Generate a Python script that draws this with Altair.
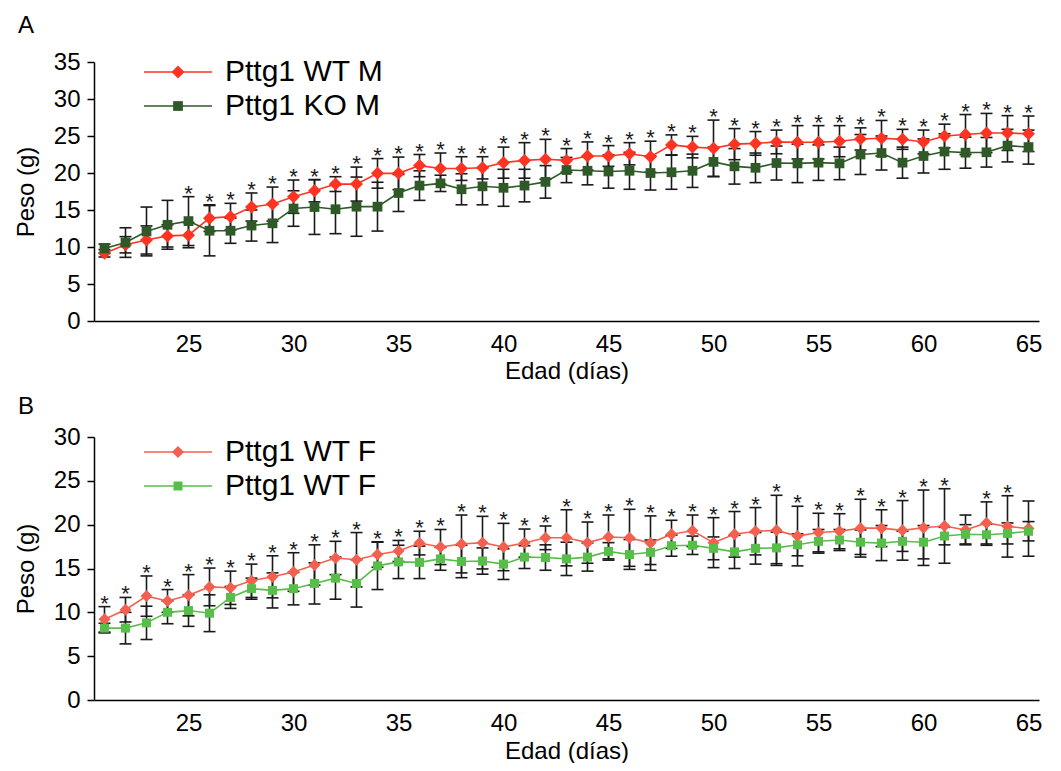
import altair as alt
import pandas as pd

# ---------------- data ----------------
dias = list(range(21, 66))
etiquetas_x = [25, 30, 35, 40, 45, 50, 55, 60, 65]
etiquetas_y_a = [0, 5, 10, 15, 20, 25, 30, 35]
etiquetas_y_b = [0, 5, 10, 15, 20, 25, 30]

# Panel A (machos)
wt_m = [9.15, 10.3, 10.95, 11.5, 11.6, 13.9, 14.1, 15.4, 15.8, 16.8, 17.6, 18.5, 18.5, 19.95, 19.95,
        21.0, 20.6, 20.6, 20.7, 21.4, 21.7, 21.85, 21.7, 22.3, 22.3, 22.6, 22.2, 23.8, 23.5, 23.35,
        23.9, 24.0, 24.2, 24.15, 24.15, 24.3, 24.6, 24.7, 24.55, 24.2, 25.0, 25.2, 25.4, 25.4, 25.3]
wt_m_err = [0.5, 1.1, 1.9, 1.5, 1.7, 1.8, 1.8, 1.9, 2.3, 2.25, 1.5, 1.0, 2.3, 2.0, 2.2,
            1.5, 2.1, 1.6, 1.5, 2.1, 2.4, 2.7, 1.6, 1.9, 1.4, 1.5, 2.1, 1.35, 1.45, 3.8,
            2.1, 1.6, 1.6, 2.25, 2.25, 2.1, 1.5, 2.4, 1.35, 1.6, 1.6, 2.7, 2.65, 2.35, 2.4]
ko_m = [9.8, 10.6, 12.1, 13.0, 13.5, 12.2, 12.2, 12.9, 13.2, 15.2, 15.4, 15.1, 15.45, 15.45, 17.3,
        18.3, 18.6, 17.8, 18.2, 18.0, 18.3, 18.8, 20.4, 20.3, 20.2, 20.3, 20.0, 20.1, 20.3, 21.5,
        20.9, 20.7, 21.35, 21.3, 21.4, 21.3, 22.5, 22.7, 21.4, 22.3, 22.9, 22.75, 22.8, 23.7, 23.5]
ko_m_err = [0.6, 2.0, 3.3, 3.3, 3.3, 3.4, 1.7, 2.1, 2.6, 2.4, 3.7, 3.3, 4.0, 3.3, 2.5,
            2.0, 1.1, 2.1, 2.5, 2.5, 2.2, 2.2, 1.7, 1.9, 2.25, 2.5, 2.3, 2.3, 2.25, 2.0,
            2.4, 2.0, 2.3, 2.6, 2.4, 2.2, 2.7, 2.3, 2.1, 2.3, 2.4, 2.1, 2.0, 2.2, 2.3]
estrellas_a = [25, 26, 27, 28, 29, 30, 31, 32, 33, 34, 35, 36, 37, 38, 39, 40, 41, 42, 43, 44, 45,
               46, 47, 48, 49, 50, 51, 52, 53, 54, 55, 56, 57, 58, 59, 60, 61, 62, 63, 64, 65]

# Panel B (hembras)
wt_f = [9.2, 10.3, 11.85, 11.3, 11.95, 12.9, 12.8, 13.6, 14.05, 14.6, 15.4, 16.2, 16.0, 16.6, 17.0,
        17.9, 17.45, 17.8, 17.95, 17.45, 17.9, 18.5, 18.5, 17.95, 18.6, 18.5, 17.9, 18.9, 19.3, 17.95,
        18.9, 19.25, 19.35, 18.7, 19.1, 19.25, 19.6, 19.6, 19.35, 19.65, 19.85, 19.4, 20.2, 19.8, 19.55]
wt_f_err = [1.45, 1.4, 2.3, 1.3, 2.35, 2.15, 1.9, 1.9, 2.4, 2.2, 2.3, 1.9, 3.1, 1.45, 1.2,
            1.35, 2.0, 3.3, 3.0, 2.7, 1.6, 1.35, 3.2, 2.35, 2.5, 3.25, 3.1, 1.6, 1.8, 2.85,
            2.6, 2.7, 4.0, 3.4, 2.2, 2.0, 3.3, 2.1, 3.4, 4.3, 4.25, 1.7, 2.4, 3.5, 3.15]
ko_f = [8.2, 8.2, 8.8, 10.0, 10.2, 9.9, 11.7, 12.7, 12.5, 12.7, 13.3, 13.9, 13.3, 15.3, 15.75,
        15.7, 16.1, 15.8, 15.85, 15.5, 16.3, 16.25, 16.1, 16.3, 16.95, 16.6, 16.85, 17.6, 17.65, 17.3,
        16.9, 17.3, 17.35, 17.7, 18.1, 18.25, 18.0, 17.9, 18.1, 18.0, 18.7, 18.9, 18.85, 19.0, 19.25]
ko_f_err = [0.55, 1.8, 1.9, 1.3, 1.8, 2.1, 1.25, 1.2, 2.0, 1.85, 2.35, 2.4, 2.7, 2.7, 1.9,
            1.85, 1.3, 1.85, 1.5, 1.75, 1.3, 1.45, 1.9, 1.6, 1.0, 1.7, 1.4, 1.2, 1.05, 1.3,
            1.9, 1.8, 1.8, 1.25, 1.35, 1.2, 1.4, 2.0, 1.15, 1.9, 1.0, 1.1, 1.2, 1.2, 1.1]
estrellas_b = [21, 22, 23, 24, 25, 26, 27, 28, 29, 30, 31, 32, 33, 34, 35, 36, 37, 38, 39, 40, 41,
               42, 43, 44, 45, 46, 47, 48, 49, 50, 51, 52, 53, 54, 55, 56, 57, 58, 59, 60, 61, 63, 64]

FONT = "Liberation Sans"
LINEA_LEY = "M-2.27,0L2.27,0"                                  # 68 px with symbolSize 900
CUADRADO = "M-0.75,-0.75L0.75,-0.75L0.75,0.75L-0.75,0.75Z"     # smaller square marker
ANCHO = 945


def tabla(series):
    filas = []
    for nombre, medias, errores in series:
        for d, m, e in zip(dias, medias, errores):
            filas.append({"dia": d, "serie": nombre, "peso": m, "lo": m - e, "hi": m + e})
    return pd.DataFrame(filas)


def panel(letra, series, estrellas, colores, tam, dominio_y, etiquetas_y, alto,
          leyenda_y, desfase_titulo, pad_lab, pad_tit, label_expr=None):
    df = tabla(series)
    nombres = [s[0] for s in series]
    tope = df.groupby("dia", as_index=False)["hi"].max()
    tope = tope[tope["dia"].isin(estrellas)]

    xs = alt.X("dia:Q", scale=alt.Scale(domain=[20.5, 65.5], nice=False, zero=False),
               axis=alt.Axis(values=etiquetas_x, title="Edad (días)", ticks=False, grid=False,
                             labelPadding=pad_lab, titlePadding=pad_tit))
    ysc = alt.Scale(domain=dominio_y, nice=False, zero=True)
    yax = alt.Axis(values=etiquetas_y, title="Peso (g)", grid=False, tickSize=7,
                   labelPadding=7, titlePadding=15)

    def Y(campo):
        return alt.Y(campo, scale=ysc, axis=yax, title="Peso (g)")

    base = alt.Chart(df)

    barras = base.mark_rule(color="#1a1a1a", strokeWidth=1.6).encode(x=xs, y=Y("lo:Q"), y2="hi:Q")
    cap_lo = base.mark_tick(orient="horizontal", size=12, thickness=1.6, color="#1a1a1a",
                            opacity=1).encode(x=xs, y=Y("lo:Q"))
    cap_hi = base.mark_tick(orient="horizontal", size=12, thickness=1.6, color="#1a1a1a",
                            opacity=1).encode(x=xs, y=Y("hi:Q"))

    comun = dict(title=None, orient="none", legendX=68, legendY=leyenda_y, padding=0)
    ley_linea = dict(comun, labelFont=FONT, labelFontSize=30, labelColor="black",
                     symbolType=LINEA_LEY, symbolSize=900, symbolStrokeWidth=1.6,
                     rowPadding=3, labelOffset=31)
    if label_expr:
        ley_linea["labelExpr"] = label_expr
    ley_puntos = dict(comun, labelFont=FONT, labelFontSize=32, labelOpacity=0, labelExpr="' '",
                      symbolSize=tam, symbolStrokeWidth=0, rowPadding=2, labelOffset=31)

    escala_color = alt.Scale(domain=nombres, range=colores)
    linea = base.mark_line(strokeWidth=1.6).encode(
        x=xs, y=Y("peso:Q"),
        color=alt.Color("serie:N", scale=escala_color, legend=alt.Legend(**ley_linea)))
    puntos = base.mark_point(filled=True, size=tam, opacity=1).encode(
        x=xs, y=Y("peso:Q"),
        color=alt.Color("serie:N", scale=escala_color, legend=alt.Legend(**ley_puntos)),
        shape=alt.Shape("serie:N", scale=alt.Scale(domain=nombres, range=["diamond", CUADRADO]),
                        legend=alt.Legend(**ley_puntos)))

    marcas = alt.Chart(tope).mark_text(text="*", fontSize=22, font=FONT, baseline="alphabetic",
                                       dy=4, color="#1a1a1a").encode(x=xs, y=Y("hi:Q"))

    return alt.layer(barras, cap_lo, cap_hi, linea, puntos, marcas).resolve_legend(
        color="independent", shape="independent"
    ).properties(
        width=ANCHO, height=alto,
        title=alt.TitleParams(letra, anchor="start", frame="group", dx=-76, fontSize=24,
                              fontWeight="normal", font=FONT, color="black",
                              offset=desfase_titulo),
    )


panel_a = panel("A", [("Pttg1 WT M", wt_m, wt_m_err), ("Pttg1 KO M", ko_m, ko_m_err)],
                estrellas_a, ["#FF3322", "#2F5A28"], 169, [0, 35], etiquetas_y_a, 259, -6,
                desfase_titulo=12, pad_lab=11, pad_tit=3)
panel_b = panel("B", [("Pttg1 WT F", wt_f, wt_f_err), ("Pttg1 KO F", ko_f, ko_f_err)],
                estrellas_b, ["#F4604F", "#58BE4A"], 144, [0, 30], etiquetas_y_b, 263, -1,
                desfase_titulo=6, pad_lab=11, pad_tit=4, label_expr="'Pttg1 WT F'")

chart = alt.vconcat(panel_a, panel_b, spacing=12).resolve_scale(
    color="independent", shape="independent"
).resolve_legend(color="independent", shape="independent").properties(
    background="white", padding={"left": 6, "top": 6, "right": 0, "bottom": 0}
).configure_axis(
    labelFont=FONT, labelFontSize=24, labelColor="black",
    titleFont=FONT, titleFontSize=24, titleFontWeight="normal", titleColor="black",
    domainColor="black", domainWidth=1.5, tickColor="black", tickWidth=1.5,
).configure_view(stroke=None)

chart.save("out.html", embed_options={"renderer": "svg", "actions": False})
